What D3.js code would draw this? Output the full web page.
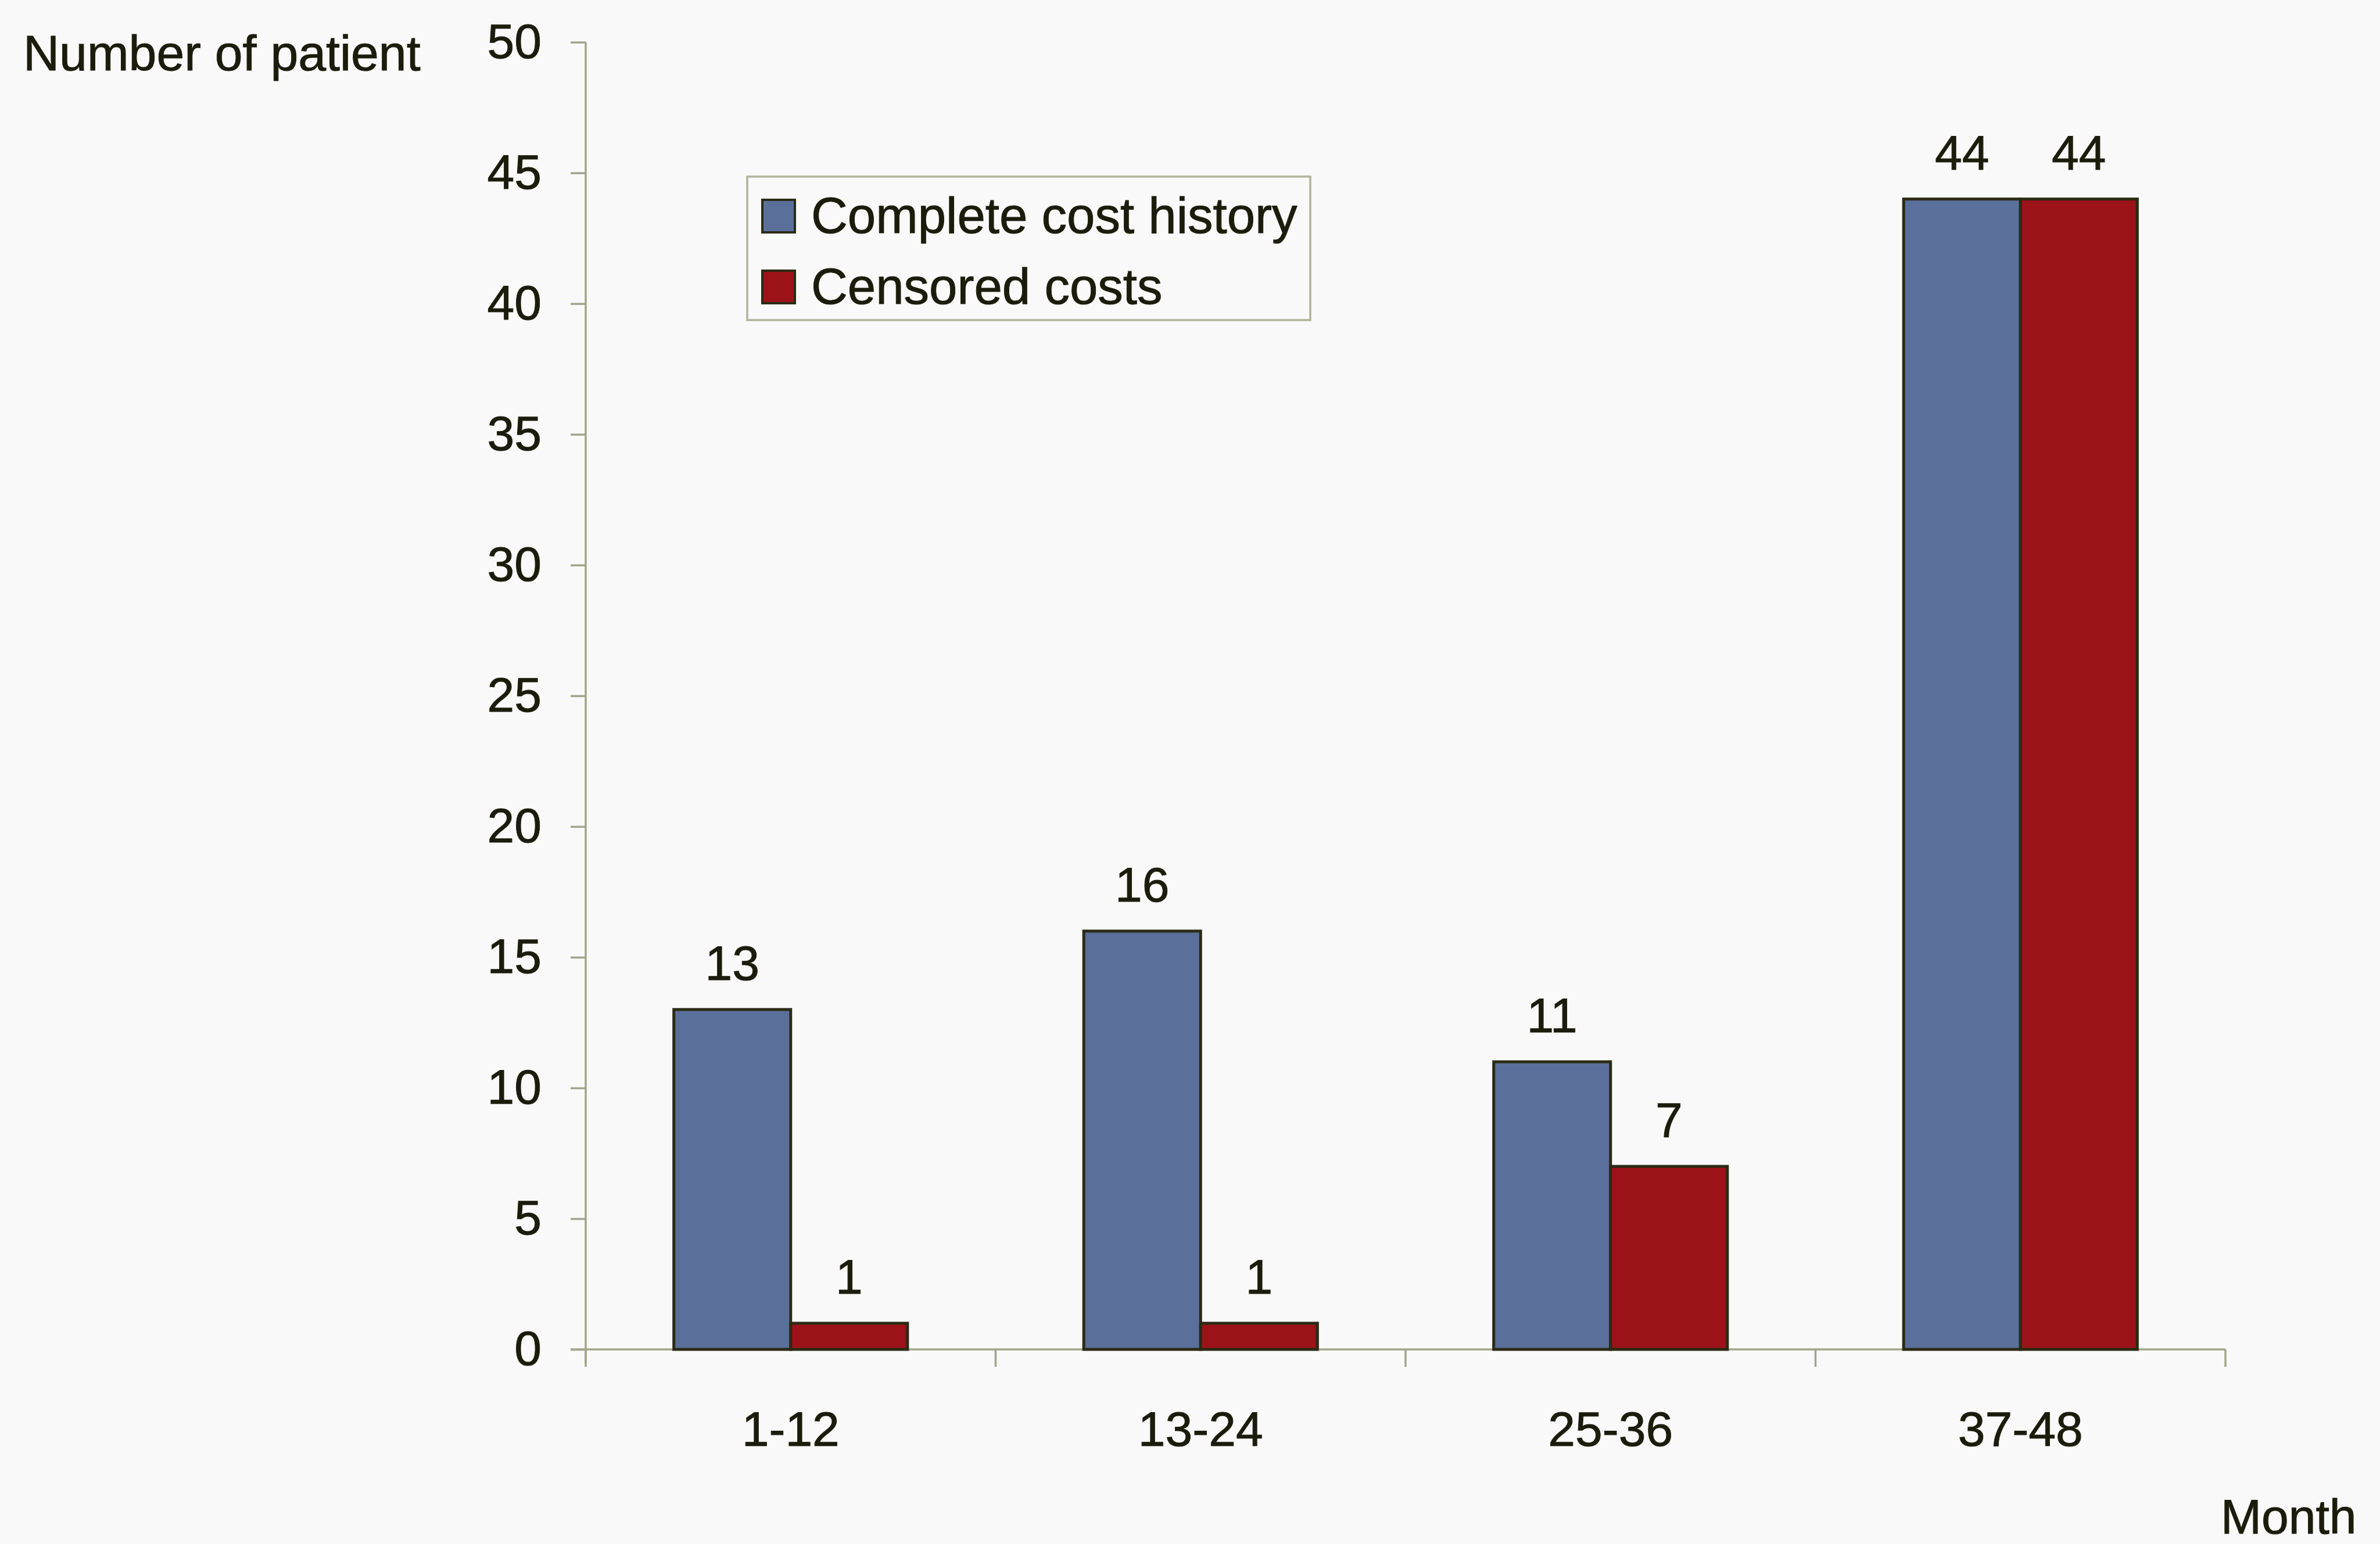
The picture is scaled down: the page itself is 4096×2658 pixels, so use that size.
<!DOCTYPE html>
<html>
<head>
<meta charset="utf-8">
<script src="https://cdn.jsdelivr.net/npm/d3@7"></script>
<style>
  html, body { margin: 0; padding: 0; background: #f8f9f8; }
  svg { display: block; }
  text { font-family: "Liberation Sans", Arial, Helvetica, sans-serif; fill: #1c1c0c; stroke: #1c1c0c; stroke-width: 1; }
</style>
</head>
<body>
<svg id="chart" width="4096" height="2658"></svg>
<script>
// Patients by follow-up month band
const categories = ["1-12", "13-24", "25-36", "37-48"];
const completeCost = [13, 16, 11, 44];
const censoredCost = [1, 1, 7, 44];
const seriesNames = ["Complete cost history", "Censored costs"];
const seriesColors = ["#5a6f9a", "#9c1219"];
const yTicks = [0, 5, 10, 15, 20, 25, 30, 35, 40, 45, 50];
const yTitle = "Number of patient";
const xTitle = "Month";

(function () {
  const svg = d3.select("#chart");
  const axisColor = "#a3a48a";
  const outline = "#2b2a14";

  const plotLeft = 1008, plotRight = 3830, plotTop = 72.6, plotBottom = 2323;

  const y = d3.scaleLinear().domain([0, 50]).range([plotBottom, plotTop]);
  const x = d3.scaleBand().domain(categories).range([plotLeft, plotRight])
    .paddingInner(0.43).paddingOuter(0.215);
  const xs = d3.scaleBand().domain(seriesNames).range([0, x.bandwidth()]).padding(0);

  const rows = categories.map((c, i) => ({
    cat: c,
    values: [
      { name: seriesNames[0], v: completeCost[i], color: seriesColors[0] },
      { name: seriesNames[1], v: censoredCost[i], color: seriesColors[1] }
    ]
  }));

  // Y axis
  const yAxis = d3.axisLeft(y).tickValues(yTicks).tickSize(26).tickPadding(50);
  const gy = svg.append("g").attr("transform", `translate(${plotLeft},0)`).call(yAxis);
  gy.select(".domain").remove();
  gy.selectAll(".tick line").attr("stroke", axisColor).attr("stroke-width", 3.5);
  gy.selectAll(".tick text").attr("font-size", 84).attr("fill", "#1c1c0c")
    .style("font-family", '"Liberation Sans", Arial, sans-serif');
  svg.append("line")
    .attr("x1", plotLeft).attr("x2", plotLeft).attr("y1", plotTop).attr("y2", plotBottom + 24)
    .attr("stroke", axisColor).attr("stroke-width", 3.5);

  // X axis line and band boundary ticks
  svg.append("line")
    .attr("x1", plotLeft - 26).attr("x2", plotRight).attr("y1", plotBottom).attr("y2", plotBottom)
    .attr("stroke", axisColor).attr("stroke-width", 3.5);
  const boundaries = d3.range(categories.length + 1).map(i => x.range()[0] + i * x.step());
  svg.append("g").selectAll("line").data(boundaries).join("line")
    .attr("x1", d => d).attr("x2", d => d)
    .attr("y1", plotBottom).attr("y2", plotBottom + 30)
    .attr("stroke", axisColor).attr("stroke-width", 3.5);

  const xAxis = d3.axisBottom(x).tickSize(0).tickPadding(0);
  const gx = svg.append("g").attr("transform", `translate(0,${plotBottom})`).call(xAxis);
  gx.select(".domain").remove();
  gx.selectAll(".tick text")
    .attr("font-size", 84).attr("fill", "#1c1c0c")
    .attr("dy", null).attr("y", 166)
    .style("font-family", '"Liberation Sans", Arial, sans-serif');

  // Bars
  const groups = svg.append("g").selectAll("g").data(rows).join("g")
    .attr("transform", d => `translate(${x(d.cat)},0)`);

  groups.selectAll("rect").data(d => d.values).join("rect")
    .attr("x", d => xs(d.name))
    .attr("width", xs.bandwidth())
    .attr("y", d => y(d.v))
    .attr("height", d => y(0) - y(d.v))
    .attr("fill", d => d.color)
    .attr("stroke", outline)
    .attr("stroke-width", 5);

  // Value labels
  groups.selectAll("text.value").data(d => d.values).join("text")
    .attr("class", "value")
    .attr("x", d => xs(d.name) + xs.bandwidth() / 2)
    .attr("y", d => y(d.v) - 51)
    .attr("text-anchor", "middle")
    .attr("font-size", 84)
    .text(d => d.v);

  // Axis titles
  svg.append("text").attr("x", 40).attr("y", 121).attr("font-size", 86).text(yTitle);
  svg.append("text").attr("x", 3822).attr("y", 2640).attr("font-size", 84).text(xTitle);

  // Legend
  const legend = svg.append("g");
  legend.append("rect")
    .attr("x", 1286).attr("y", 304).attr("width", 969).attr("height", 247)
    .attr("fill", "none").attr("stroke", "#b2b39c").attr("stroke-width", 3.5);
  const items = legend.selectAll("g").data(seriesNames).join("g")
    .attr("transform", (d, i) => `translate(1312,${344 + i * 122})`);
  items.append("rect")
    .attr("width", 56).attr("height", 56)
    .attr("fill", (d, i) => seriesColors[i])
    .attr("stroke", outline).attr("stroke-width", 4);
  items.append("text")
    .attr("x", 84).attr("y", 57)
    .attr("font-size", 87)
    .text(d => d);
})();
</script>
</body>
</html>
